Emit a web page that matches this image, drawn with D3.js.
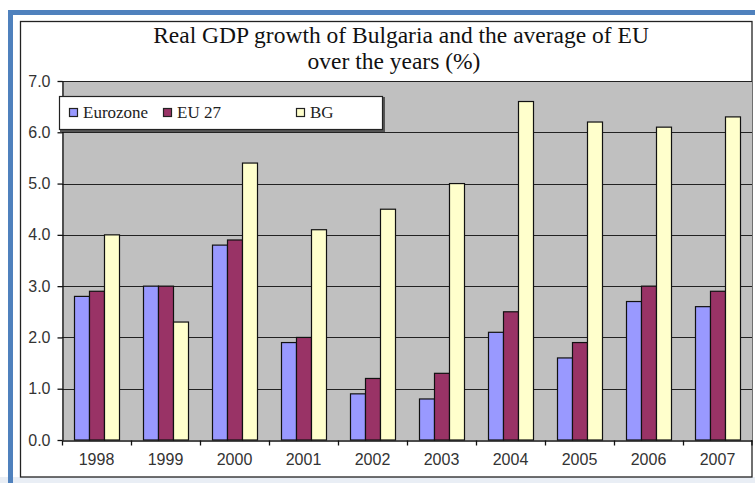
<!DOCTYPE html>
<html>
<head>
<meta charset="utf-8">
<script src="https://cdn.jsdelivr.net/npm/d3@7"></script>
<style>
  body { margin: 0; background: #fff; }
  svg { display: block; }
</style>
</head>
<body>
<div id="chart"></div>
<script>
var years = ["1998","1999","2000","2001","2002","2003","2004","2005","2006","2007"];
var seriesNames = ["Eurozone", "EU 27", "BG"];
var eurozone = [2.8, 3.0, 3.8, 1.9, 0.9, 0.8, 2.1, 1.6, 2.7, 2.6];
var eu27 = [2.9, 3.0, 3.9, 2.0, 1.2, 1.3, 2.5, 1.9, 3.0, 2.9];
var bg = [4.0, 2.3, 5.4, 4.1, 4.5, 5.0, 6.6, 6.2, 6.1, 6.3];
var yTicks = [0, 1, 2, 3, 4, 5, 6, 7];
var titleLines = ["Real GDP growth of Bulgaria and the average of EU", "over the years (%)"];

var colors = ["#9999ff", "#993366", "#ffffcc"];
var values = [eurozone, eu27, bg];

var W = 755, H = 483;
var m = [81, 3, 43, 62]; // top right bottom left of plot

var svg = d3.select("#chart").append("svg")
  .attr("width", W).attr("height", H);

// frame
svg.append("rect").attr("x", 0).attr("y", 477).attr("width", W).attr("height", 6).attr("fill", "#e9eef5");
svg.append("rect").attr("x", 8).attr("y", 10).attr("width", W - 8).attr("height", 5).attr("fill", "#4f81bd");
svg.append("rect").attr("x", 8).attr("y", 10).attr("width", 5).attr("height", H - 10).attr("fill", "#4f81bd");
svg.append("rect").attr("x", 20.5).attr("y", 21.5).attr("width", 731.5).attr("height", 455.5)
  .attr("fill", "#fff").attr("stroke", "#222").attr("stroke-width", 1.3);

// title
svg.append("g").selectAll("text")
  .data(titleLines)
  .enter().append("text")
  .attr("x", function(d, i) { return i == 0 ? 401 : 394; })
  .attr("y", function(d, i) { return 43 + i * 26; })
  .attr("text-anchor", "middle")
  .attr("font-family", "'Liberation Serif', 'Times New Roman', serif")
  .attr("font-size", 23.5)
  .attr("fill", "#111")
  .text(function(d) { return d; });

var x = d3.scaleBand()
  .domain(years)
  .range([m[3], W - m[1]]);

var x1 = d3.scaleBand()
  .domain(seriesNames)
  .range([12, x.bandwidth() - 12]);

var y = d3.scaleLinear()
  .domain([0, 7])
  .range([H - m[2], m[0]]);

// plot background
svg.append("rect")
  .attr("x", x.range()[0]).attr("y", y(7))
  .attr("width", x.range()[1] - x.range()[0])
  .attr("height", y(0) - y(7))
  .attr("fill", "#c0c0c0");

// gridlines
svg.append("g")
  .selectAll("line")
  .data(yTicks.slice(1))
  .enter().append("line")
  .attr("x1", x.range()[0]).attr("x2", x.range()[1])
  .attr("y1", function(d) { return Math.round(y(d)) + 0.5; })
  .attr("y2", function(d) { return Math.round(y(d)) + 0.5; })
  .attr("stroke", "#222").attr("stroke-width", 1.2);

// bars
var groups = svg.append("g")
  .selectAll("g")
  .data(years)
  .enter().append("g")
  .attr("transform", function(d) { return "translate(" + x(d) + ",0)"; });

groups.selectAll("rect")
  .data(function(d, i) {
    return seriesNames.map(function(s, j) { return {s: s, v: values[j][i], c: colors[j]}; });
  })
  .enter().append("rect")
  .attr("x", function(d) { return x1(d.s) + 0.5; })
  .attr("y", function(d) { return y(d.v); })
  .attr("width", x1.bandwidth())
  .attr("height", function(d) { return y(0) - y(d.v); })
  .attr("fill", function(d) { return d.c; })
  .attr("stroke", "#111")
  .attr("stroke-width", 1.2);

// y axis
var yAxis = d3.axisLeft(y)
  .tickValues(yTicks)
  .tickFormat(d3.format(".1f"))
  .tickSize(5)
  .tickSizeOuter(0)
  .tickPadding(7);

var gY = svg.append("g")
  .attr("transform", "translate(" + (m[3] + 0.5) + ",0)")
  .call(yAxis);
gY.select(".domain").attr("stroke", "#111").attr("stroke-width", 1.3);
gY.selectAll(".tick line").attr("stroke", "#111").attr("stroke-width", 1.3);
gY.selectAll("text")
  .attr("font-family", "'Liberation Sans', Arial, sans-serif")
  .attr("font-size", 16)
  .attr("fill", "#333");

// x axis
var xAxis = d3.axisBottom(x)
  .tickSize(0)
  .tickSizeOuter(0)
  .tickPadding(13);

var gX = svg.append("g")
  .attr("transform", "translate(0," + (y(0) + 0.5) + ")")
  .call(xAxis);
gX.select(".domain").attr("stroke", "#111").attr("stroke-width", 1.3);
gX.selectAll("text")
  .attr("font-family", "'Liberation Sans', Arial, sans-serif")
  .attr("font-size", 16)
  .attr("fill", "#333");

gX.append("g").selectAll("line")
  .data(years.concat(["end"]))
  .enter().append("line")
  .attr("x1", function(d) { return d == "end" ? x.range()[1] : x(d) + 0.5; })
  .attr("x2", function(d) { return d == "end" ? x.range()[1] : x(d) + 0.5; })
  .attr("y1", 0).attr("y2", 5)
  .attr("stroke", "#111").attr("stroke-width", 1.3);

// legend
var legend = svg.append("g").attr("transform", "translate(59,96)");
legend.append("rect")
  .attr("x", 1).attr("y", 1).attr("width", 325).attr("height", 35)
  .attr("fill", "#555");
legend.append("rect")
  .attr("x", 0.5).attr("y", 0.5).attr("width", 323).attr("height", 33)
  .attr("fill", "#fff").attr("stroke", "#222").attr("stroke-width", 1.2);

var legendX = [10, 104, 237];
var item = legend.selectAll(".item")
  .data(seriesNames)
  .enter().append("g")
  .attr("class", "item")
  .attr("transform", function(d, i) { return "translate(" + legendX[i] + ",0)"; });

item.append("rect")
  .attr("x", 0.5).attr("y", 12.5).attr("width", 8).attr("height", 8)
  .attr("fill", function(d, i) { return colors[i]; })
  .attr("stroke", "#222").attr("stroke-width", 1.2);

item.append("text")
  .attr("x", 14).attr("y", 22)
  .attr("font-family", "'Liberation Serif', 'Times New Roman', serif")
  .attr("font-size", 17)
  .attr("fill", "#222")
  .text(function(d) { return d; });
</script>
</body>
</html>
